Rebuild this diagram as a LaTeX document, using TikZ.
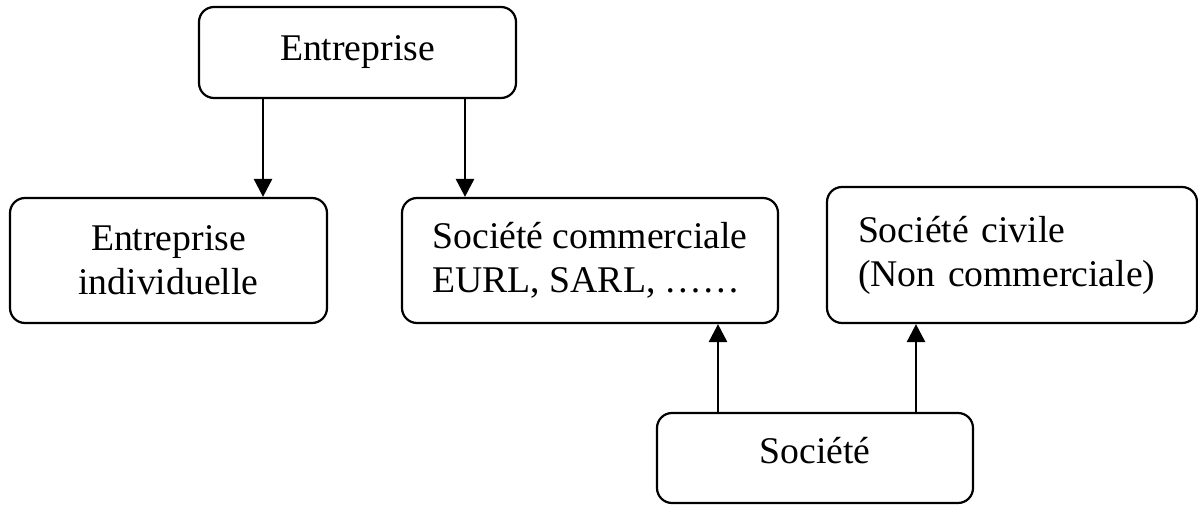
\documentclass[tikz,border=0pt]{standalone}
\usepackage{fontspec}
\setmainfont{Liberation Serif}
\usetikzlibrary{arrows.meta}

\begin{document}
\begin{tikzpicture}[box/.style={draw, rounded corners=7.5pt, line width=1.1pt, minimum width=158.5pt, font=\fontsize{18.85pt}{22pt}\selectfont},
  arr/.style={-{Triangle[length=9pt,width=9pt]}, line width=1.4pt}]
\useasboundingbox (0,0) rectangle (599pt,252pt);
\node [box, minimum height=45.5pt] (a) at (178.75pt,225.75pt) {Entreprise};
\node [box, minimum height=62.5pt, align=center] (b) at (84.25pt,121.75pt) {Entreprise\\individuelle};
\node [box, minimum width=188pt, minimum height=62.5pt, align=left] (c) at (295pt,121.75pt) {Société commerciale\\EURL, SARL, ……};
\node [box, minimum width=185pt, minimum height=68pt, text width=154pt, inner xsep=15.5pt, align=left] (d) at (506pt,124.5pt) {Société civile\\(Non commerciale)};
\node [box, minimum width=158pt, minimum height=45pt, text depth=7.75pt] (e) at (407.5pt,23pt) {Société};
\draw [arr] ([xshift=-47.25pt]a.south) -- ([xshift=47.25pt]b.north);
\draw [arr] ([xshift=53.75pt]a.south) -- ([xshift=-62.5pt]c.north);
\draw [arr] ([xshift=-48.5pt]e.north) -- ([xshift=64pt]c.south);
\draw [arr] ([xshift=50.5pt]e.north) -- ([xshift=-48pt]d.south);
\end{tikzpicture}
\end{document}
